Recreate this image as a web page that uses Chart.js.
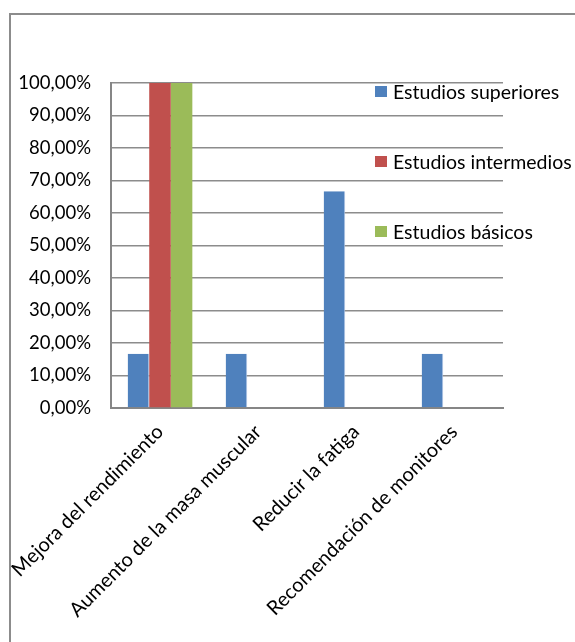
<!DOCTYPE html>
<html lang="es">
<head>
<meta charset="UTF-8">
<title>Estudios</title>
<script src="https://cdn.jsdelivr.net/npm/chart.js"></script>
<style>
    html, body { margin: 0; padding: 0; background: #fff; }
    .frame {
        position: absolute;
        left: 9px;
        top: 13px;
        width: 600px;
        height: 700px;
        border-top: 2px solid #8c8c8c;
        border-left: 2px solid #8c8c8c;
    }
    .wrap { position: absolute; left: 0; top: 0; width: 575px; height: 642px; }
</style>
</head>
<body>
<div class="frame"></div>
<div class="wrap"><canvas id="chart" width="575" height="642"></canvas></div>
<script>
const categories = ['Mejora del rendimiento', 'Aumento de la masa muscular', 'Reducir la fatiga', 'Recomendación de monitores'];
const superiores = [16.67, 16.67, 66.67, 16.67];
const intermedios = [100, 0, 0, 0];
const basicos = [100, 0, 0, 0];

const FONT = 'Lato, "Open Sans", sans-serif';

// legend drawn inside the plot, stacked down the right side
const sideLegend = {
    id: 'sideLegend',
    afterDraw(chart) {
        const ctx = chart.ctx;
        const rows = [92, 162, 232];
        ctx.save();
        ctx.font = '19.5px ' + FONT;
        ctx.textBaseline = 'middle';
        chart.data.datasets.forEach((ds, i) => {
            ctx.fillStyle = ds.backgroundColor;
            ctx.fillRect(375, rows[i] - 6, 12, 11);
            ctx.fillStyle = '#000';
            ctx.fillText(ds.label, 393, rows[i] + 1);
        });
        ctx.restore();
    }
};

new Chart(document.getElementById('chart'), {
    type: 'bar',
    data: {
        labels: categories,
        datasets: [
            { label: 'Estudios superiores', data: superiores, backgroundColor: '#4f81bd',
              borderColor: '#a9c2e2', borderWidth: { right: 1 }, borderSkipped: false },
            { label: 'Estudios intermedios', data: intermedios, backgroundColor: '#c0504d', borderWidth: 0 },
            { label: 'Estudios básicos', data: basicos, backgroundColor: '#9bbb59', borderWidth: 0 }
        ]
    },
    options: {
        responsive: false,
        animation: false,
        datasets: { bar: { categoryPercentage: 0.66, barPercentage: 1 } },
        layout: { padding: { top: 83, right: 72, left: 0, bottom: 0 } },
        plugins: { legend: { display: false }, tooltip: { enabled: false } },
        scales: {
            x: {
                grid: { display: false, drawTicks: false },
                border: { color: '#868686', width: 2 },
                ticks: {
                    color: '#000',
                    font: { family: FONT, size: 20 },
                    minRotation: 45,
                    maxRotation: 45,
                    padding: 12
                },
                afterFit(scale) {
                    scale.height = 234;
                    scale.paddingLeft = 0;
                    scale.paddingRight = 0;
                }
            },
            y: {
                min: 0,
                max: 100,
                grid: { color: '#8c8c8c', lineWidth: 1.5, drawTicks: false },
                border: { color: '#868686', width: 2 },
                ticks: {
                    stepSize: 10,
                    color: '#000',
                    font: { family: FONT, size: 18.5 },
                    padding: 20,
                    callback: v => v.toFixed(2).replace('.', ',') + '%'
                },
                afterFit(scale) { scale.width = 111; }
            }
        }
    },
    plugins: [sideLegend]
});
</script>
</body>
</html>
